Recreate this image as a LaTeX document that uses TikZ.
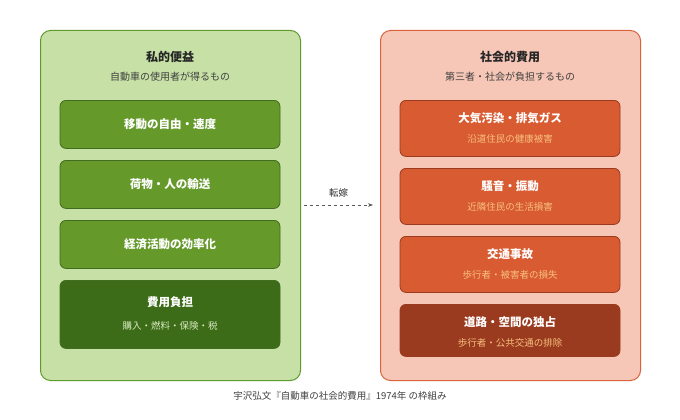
\documentclass[tikz,border=0pt]{standalone}
\usepackage{fontspec}
\newfontfamily\cjk{Noto Sans CJK JP}
\usetikzlibrary{arrows.meta}
\definecolor{gpanel}{HTML}{C6E0A6}
\definecolor{gborder}{HTML}{5E9A2C}
\definecolor{gbox}{HTML}{659A2B}
\definecolor{gboxd}{HTML}{3C6C17}
\definecolor{rpanel}{HTML}{F6C6B6}
\definecolor{rborder}{HTML}{D8643E}
\definecolor{rbox}{HTML}{D95B31}
\definecolor{rboxd}{HTML}{9A3A1E}
\definecolor{rsub}{HTML}{F7C080}
\definecolor{gsub}{HTML}{D8EAC0}
\tikzset{
 panel/.style={draw, line width=1pt, rounded corners=10pt},
 box/.style={draw, line width=0.8pt, rounded corners=6pt, minimum width=220pt, anchor=north, align=center, inner sep=0pt},
 ttl/.style={font=\cjk\bfseries\fontsize{12}{14}\selectfont, text=black!85},
 sub/.style={font=\cjk\fontsize{10}{12}\selectfont, text=black!75},
}
\begin{document}
\begin{tikzpicture}[x=1pt,y=-1pt]
\useasboundingbox[fill=white] (0,0) rectangle (680,420);
\node[panel, fill=gpanel, draw=gborder, minimum width=260pt, minimum height=350pt, anchor=north west] (lp) at (40,30) {};
\node[panel, fill=rpanel, draw=rborder, minimum width=260pt, minimum height=350pt, anchor=north west] (rp) at (380,30) {};
\node[ttl] (lt) at (170,57) {私的便益};
\node[sub] (ls) at (170,77) {自動車の使用者が得るもの};
\node[ttl] (rt) at (510,57) {社会的費用};
\node[sub] (rs) at (510,77) {第三者・社会が負担するもの};
\newcommand{\gb}[4]{\node[box, fill=#4, draw=gborder!70!black, minimum height=#3pt, text=white, font=\cjk\bfseries\fontsize{11.5}{14}\selectfont] (#1) at (170,#2) {};}
\gb{g1}{100}{48}{gbox}
\node[text=white, font=\cjk\bfseries\fontsize{11.5}{14}\selectfont] at (g1) {移動の自由・速度};
\gb{g2}{160}{48}{gbox}
\node[text=white, font=\cjk\bfseries\fontsize{11.5}{14}\selectfont] at (g2) {荷物・人の輸送};
\gb{g3}{220}{48}{gbox}
\node[text=white, font=\cjk\bfseries\fontsize{11.5}{14}\selectfont] at (g3) {経済活動の効率化};
\gb{g4}{280}{68}{gboxd}
\node[text=white, font=\cjk\bfseries\fontsize{11.5}{14}\selectfont] at (170,302) {費用負担};
\node[text=gsub, font=\cjk\fontsize{9.5}{12}\selectfont] at (170,326) {購入・燃料・保険・税};
\newcommand{\rb}[6]{\node[box, fill=#4, draw=rboxd, minimum height=#3pt] (#1) at (510,#2) {};
\node[text=white, font=\cjk\bfseries\fontsize{11.5}{14}\selectfont] at (510,#2+18) {#5};
\node[text=rsub, font=\cjk\fontsize{9.5}{12}\selectfont] at (510,#2+39) {#6};}
\rb{r1}{100}{56}{rbox}{大気汚染・排気ガス}{沿道住民の健康被害}
\rb{r2}{168}{56}{rbox}{騒音・振動}{近隣住民の生活損害}
\rb{r3}{236}{56}{rbox}{交通事故}{歩行者・被害者の損失}
\rb{r4}{304}{52}{rboxd}{道路・空間の独占}{歩行者・公共交通の排除}
\coordinate (a1) at (304,205);
\coordinate (a2) at (373,205);
\draw[dashed, black!65, line width=0.8pt, -{Stealth[length=5pt]}] (a1) -- (a2) node[midway, above=4pt, text=black!80, font=\cjk\fontsize{9.5}{12}\selectfont] {転嫁};
\node[font=\cjk\fontsize{9.5}{12}\selectfont, text=black!75] (cap) at (340,396) {宇沢弘文『自動車の社会的費用』1974年 の枠組み};
\end{tikzpicture}
\end{document}
